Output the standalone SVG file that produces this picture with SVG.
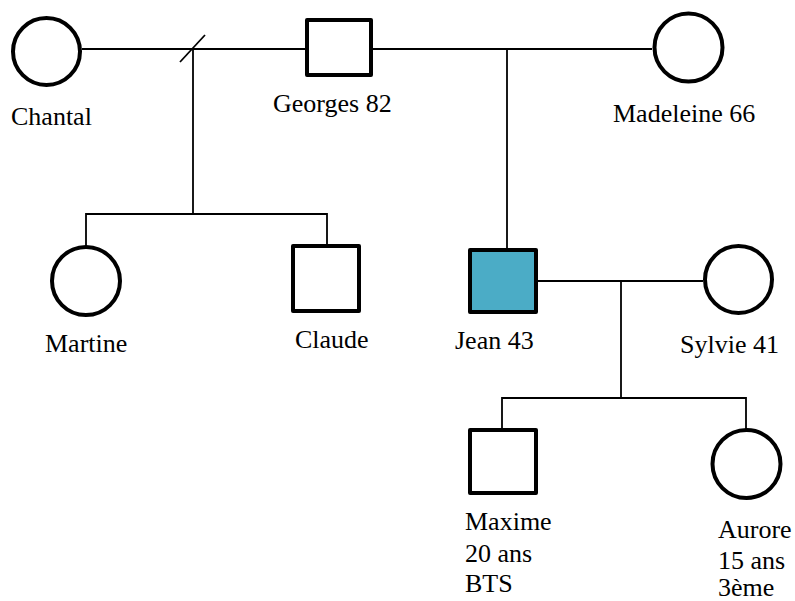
<svg xmlns="http://www.w3.org/2000/svg" width="795" height="601" viewBox="0 0 795 601">
<style>
.n{fill:#fff;stroke:#000;stroke-width:4;stroke-linejoin:round}
.a{fill:#4BACC6}
.l{fill:none;stroke:#000;stroke-width:1.8}
.t{font-family:'Liberation Serif','Times New Roman',serif;font-size:26px;fill:#000}
</style>
<rect width="795" height="601" fill="#fff"/>
<g id="connectors">
<line class="l" x1="82" y1="49" x2="305" y2="49"/>
<line class="l" x1="373" y1="49" x2="652" y2="49"/>
<line class="l" x1="180" y1="62" x2="205" y2="35"/>
<line class="l" x1="193" y1="49" x2="193" y2="214"/>
<polyline class="l" points="86,247 86,214 327,214 327,246"/>
<line class="l" x1="507" y1="49" x2="507" y2="250"/>
<line class="l" x1="538" y1="281" x2="703" y2="281"/>
<line class="l" x1="621" y1="281" x2="621" y2="398"/>
<polyline class="l" points="502,430 502,398 746,398 746,430"/>
</g>
<g id="chantal"><circle class="n" cx="46.5" cy="51.5" r="33.5"/><text class="t" x="11" y="125">Chantal</text></g>
<g id="georges"><rect class="n" x="307" y="20" width="64" height="55"/><text class="t" x="273" y="112">Georges 82</text></g>
<g id="madeleine"><circle class="n" cx="688.5" cy="47.5" r="34"/><text class="t" x="613" y="122">Madeleine 66</text></g>
<g id="martine"><circle class="n" cx="86" cy="281" r="34"/><text class="t" x="45" y="352">Martine</text></g>
<g id="claude"><rect class="n" x="293" y="246" width="66" height="65"/><text class="t" x="295" y="348">Claude</text></g>
<g id="jean"><rect class="n a" x="470" y="250" width="66" height="62"/><text class="t" x="455" y="349">Jean 43</text></g>
<g id="sylvie"><circle class="n" cx="738.5" cy="279.5" r="33.5"/><text class="t" x="680" y="353">Sylvie 41</text></g>
<g id="maxime"><rect class="n" x="470" y="430" width="66" height="63"/><text class="t" x="465" y="530">Maxime</text><text class="t" x="465" y="562">20 ans</text><text class="t" x="465" y="592">BTS</text></g>
<g id="aurore"><circle class="n" cx="746.5" cy="464" r="34"/><text class="t" x="718" y="538">Aurore</text><text class="t" x="718" y="569">15 ans</text><text class="t" x="718" y="596">3ème</text></g>
</svg>
